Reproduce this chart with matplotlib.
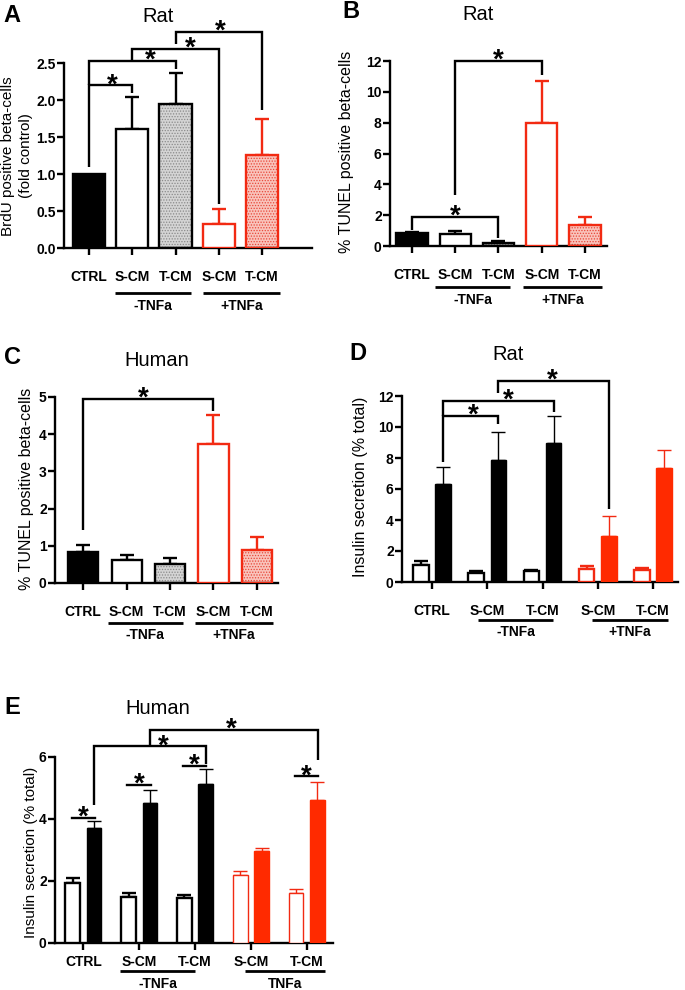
import matplotlib
matplotlib.use('Agg')
import matplotlib.pyplot as plt
import matplotlib.transforms as mtransforms

W, H = 685, 990
plt.rcParams['font.family'] = ['Liberation Sans', 'DejaVu Sans']
plt.rcParams['hatch.linewidth'] = 0.6

RED = '#f22a12'
REDFILL = '#ff2a00'

# ---------------- data ----------------
cats = ['CTRL', 'S-CM', 'T-CM', 'S-CM', 'T-CM']
groups_pm = ['-TNFa', '+TNFa']
groups_E = ['-TNFa', 'TNFa']

A_vals = [1.0, 1.61, 1.95, 0.33, 1.26]
A_errs = [0.0, 0.43, 0.42, 0.20, 0.48]
B_vals = [0.85, 0.75, 0.20, 8.0, 1.35]
B_errs = [0.06, 0.20, 0.10, 2.70, 0.50]
C_vals = [0.82, 0.63, 0.52, 3.75, 0.88]
C_errs = [0.21, 0.12, 0.15, 0.77, 0.37]
D_basal = [1.1, 0.6, 0.7, 0.85, 0.8]
D_basal_err = [0.25, 0.08, 0.05, 0.20, 0.10]
D_stim = [6.3, 7.9, 9.0, 3.0, 7.35]
D_stim_err = [1.1, 1.8, 1.7, 1.25, 1.15]
E_basal = [1.95, 1.5, 1.45, 2.2, 1.6]
E_basal_err = [0.15, 0.12, 0.10, 0.13, 0.13]
E_stim = [3.7, 4.52, 5.12, 2.98, 4.6]
E_stim_err = [0.22, 0.43, 0.48, 0.10, 0.60]

TICK_FS = 10
TITLE_FS = 14.5
LETTER_FS = 17
YLAB_FS = 11.5
STAR_FS = 20
STAR_OFF = -5

fig = plt.figure(figsize=(W / 100, H / 100), dpi=100)


def make_ax(left, right, bottom, top):
    return fig.add_axes([left / W, 1 - bottom / H, (right - left) / W, (bottom - top) / H])


def style(ax, xlim, ymax, yticks, yticklabels, xticks, xpad, xlen=5):
    ax.set_xlim(*xlim)
    ax.set_ylim(0, ymax)
    for s in ['top', 'right']:
        ax.spines[s].set_visible(False)
    for s in ['left', 'bottom']:
        ax.spines[s].set_linewidth(1.7)
    ax.set_yticks(yticks, yticklabels)
    ax.set_xticks(xticks, cats)
    ax.tick_params(axis='y', length=5, width=1.7, pad=1, labelsize=TICK_FS)
    ax.tick_params(axis='x', length=xlen, width=1.7, pad=xpad, labelsize=TICK_FS)
    for lab in ax.get_xticklabels() + ax.get_yticklabels():
        lab.set_fontweight('bold')
    ax.patch.set_alpha(0)


def bar(ax, x, v, e, w, fc, ec, lw=1.7, hatch=None, hc=None, ecap=None):
    if hatch:
        ax.bar(x, v, w, color=fc, edgecolor=hc, hatch=hatch, linewidth=0, zorder=2)
        ax.bar(x, v, w, fill=False, edgecolor=ec, linewidth=lw, zorder=3)
    else:
        ax.bar(x, v, w, color=fc, edgecolor=ec, linewidth=lw, zorder=3)
    if e > 0:
        ax.errorbar([x], [v], yerr=[[0], [e]], fmt='none', ecolor=ecap or ec,
                    elinewidth=lw, capsize=5, capthick=lw, zorder=1)


def bar5(ax, vals, errs, w):
    specs = [
        dict(fc='black', ec='black'),
        dict(fc='white', ec='black'),
        dict(fc='#d4d4d4', ec='black', hatch='......', hc='#8a8a8a'),
        dict(fc='white', ec=RED),
        dict(fc='#f9c3bb', ec=RED, hatch='......', hc='#e8483a'),
    ]
    for i, (v, e) in enumerate(zip(vals, errs)):
        bar(ax, i, v, e, w, **specs[i])


def star(ax, x, y):
    ax.annotate('*', (x, y), xytext=(0, STAR_OFF), textcoords='offset points',
                ha='center', va='baseline', fontsize=STAR_FS, fontweight='bold',
                annotation_clip=False)


def bracket(ax, x1, x2, y, yl, yr, sx):
    ax.plot([x1, x1, x2, x2], [yl, y, y, yr], color='black', lw=1.7,
            clip_on=False, solid_joinstyle='miter', solid_capstyle='butt', zorder=5)
    star(ax, sx, y)


def sig_line(ax, x1, x2, y):
    ax.plot([x1, x2], [y, y], color='black', lw=1.7, clip_on=False, zorder=5)
    star(ax, (x1 + x2) / 2, y)


def group_lines(ax, spans, labels, y_line, y_text):
    tr = mtransforms.blended_transform_factory(ax.transData, fig.transFigure)
    for (a, b), lab in zip(spans, labels):
        ax.plot([a, b], [1 - y_line / H] * 2, transform=tr, color='black', lw=2.0,
                clip_on=False, solid_capstyle='butt')
        ax.text((a + b) / 2, 1 - y_text / H, lab, transform=tr, ha='center',
                va='center', fontsize=TICK_FS, fontweight='bold')


def ftext(x, y, s, **kw):
    fig.text(x / W, 1 - y / H, s, **kw)


# ---------------- Panel A ----------------
axA = make_ax(64, 312, 248, 63)
bar5(axA, A_vals, A_errs, 0.74)
style(axA, (-0.578, 5.156), 2.5, [0, 0.5, 1.0, 1.5, 2.0, 2.5],
      ['0.0', '0.5', '1.0', '1.5', '2.0', '2.5'], range(5), 11)
bracket(axA, 0, 1, 2.20, 1.10, 2.10, 0.53)
bracket(axA, 0, 2, 2.53, 2.20, 2.42, 1.41)
bracket(axA, 1, 3, 2.69, 2.53, 0.60, 2.34)
bracket(axA, 2, 4, 2.92, 2.76, 1.86, 3.03)
group_lines(axA, [(0.6, 2.36), (2.64, 4.42)], groups_pm, 293, 306)
ftext(12, 15, 'A', fontsize=LETTER_FS, fontweight='bold', ha='center', va='center')
ftext(158, 16, 'Rat', fontsize=TITLE_FS, ha='center', va='center')
ftext(17, 156, 'BrdU positive beta-cells\n(fold control)', rotation=90,
      fontsize=11, ha='center', va='center', multialignment='center', linespacing=1.3)

# ---------------- Panel B ----------------
axB = make_ax(390, 607, 246, 61)
bar5(axB, B_vals, B_errs, 0.72)
style(axB, (-0.508, 4.509), 12, [0, 2, 4, 6, 8, 10, 12],
      ['0', '2', '4', '6', '8', '10', '12'], range(5), 10.5)
bracket(axB, 0, 2, 1.9, 1.04, 0.55, 1.0)
bracket(axB, 1, 3, 12.0, 3.3, 11.1, 2.0)
group_lines(axB, [(0.53, 2.27), (2.57, 4.39)], groups_pm, 287, 300)
ftext(351, 12, 'B', fontsize=LETTER_FS, fontweight='bold', ha='center', va='center')
ftext(478, 14, 'Rat', fontsize=TITLE_FS, ha='center', va='center')
ftext(346, 152, '% TUNEL positive beta-cells', rotation=90, fontsize=YLAB_FS,
      ha='center', va='center')

# ---------------- Panel C ----------------
axC = make_ax(55, 278, 583, 397)
bar5(axC, C_vals, C_errs, 0.69)
style(axC, (-0.644, 4.483), 5, [0, 1, 2, 3, 4, 5],
      ['0', '1', '2', '3', '4', '5'], range(5), 11)
bracket(axC, 0, 3, 4.95, 1.42, 4.62, 1.38)
group_lines(axC, [(0.57, 2.3), (2.57, 4.37)], groups_pm, 623, 635)
ftext(12, 357, 'C', fontsize=LETTER_FS, fontweight='bold', ha='center', va='center')
ftext(157, 360, 'Human', fontsize=TITLE_FS, ha='center', va='center')
ftext(27, 489, '% TUNEL positive beta-cells', rotation=90, fontsize=YLAB_FS,
      ha='center', va='center')


# ---------------- paired panels ----------------
def paired(ax, basal, basal_err, stim, stim_err, off, w, red_white_lw):
    for i in range(5):
        red = i >= 3
        bar(ax, i - off, basal[i], basal_err[i], w, 'white', RED if red else 'black',
            lw=red_white_lw if red else 1.7, ecap='black' if not red else RED)
        fc = REDFILL if red else 'black'
        bar(ax, i + off, stim[i], stim_err[i], w, fc, fc, lw=1.0,
            ecap=RED if red else 'black')


# ---------------- Panel D ----------------
axD = make_ax(402, 678, 582, 396)
paired(axD, D_basal, D_basal_err, D_stim, D_stim_err, 0.2, 0.28, 1.7)
style(axD, (-0.543, 4.452), 12, [0, 2, 4, 6, 8, 10, 12],
      ['0', '2', '4', '6', '8', '10', '12'], range(5), 10.5)
bracket(axD, 0.2, 1.2, 10.7, 7.75, 10.2, 0.74)
bracket(axD, 0.2, 2.2, 11.7, 10.7, 11.0, 1.38)
bracket(axD, 1.2, 3.2, 13.0, 12.2, 4.7, 2.17)
group_lines(axD, [(0.83, 2.19), (2.9, 4.27)], groups_pm, 620, 632)
ftext(358, 353, 'D', fontsize=LETTER_FS, fontweight='bold', ha='center', va='center')
ftext(508, 355, 'Rat', fontsize=TITLE_FS, ha='center', va='center')
ftext(360, 487, 'Insulin secretion (% total)', rotation=90, fontsize=YLAB_FS,
      ha='center', va='center')

# ---------------- Panel E ----------------
axE = make_ax(55, 333, 943, 757)
paired(axE, E_basal, E_basal_err, E_stim, E_stim_err, 0.19, 0.26, 1.0)
style(axE, (-0.507, 4.47), 6, [0, 2, 4, 6], ['0', '2', '4', '6'], range(5), 3.5, xlen=5)
sig_line(axE, -0.2, 0.21, 4.03)
sig_line(axE, 0.79, 1.21, 5.1)
sig_line(axE, 1.79, 2.2, 5.72)
sig_line(axE, 3.79, 4.2, 5.38)
bracket(axE, 0.2, 2.2, 6.34, 4.46, 5.78, 1.43)
bracket(axE, 1.2, 4.2, 6.88, 6.34, 5.9, 2.65)
group_lines(axE, [(0.66, 2.0), (2.9, 4.33)], groups_E, 971, 984)
ftext(12, 707, 'E', fontsize=LETTER_FS, fontweight='bold', ha='center', va='center')
ftext(158, 708, 'Human', fontsize=TITLE_FS, ha='center', va='center')
ftext(31, 852, 'Insulin secretion (% total)', rotation=90, fontsize=11,
      ha='center', va='center')

fig.savefig('out.png', dpi=100)
